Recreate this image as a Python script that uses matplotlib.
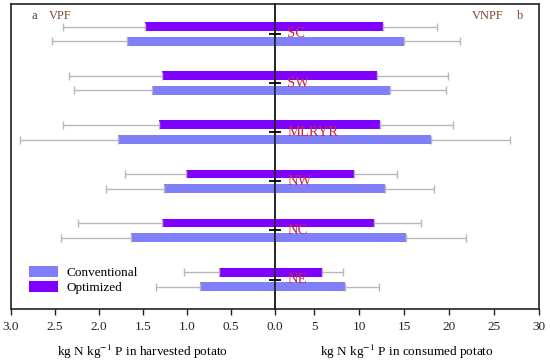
import matplotlib
matplotlib.use("Agg")
import matplotlib.pyplot as plt
import numpy as np

# -- Data ---------------------------------------------------------------------

regions = ["NE", "NC", "NW", "MLRYR", "SW", "SC"]

# VPF: kg N kg-1 P in harvested potato
vpf_conv = [0.85, 1.63, 1.26, 1.78, 1.40, 1.68]
vpf_conv_err = [0.50, 0.80, 0.66, 1.11, 0.88, 0.85]
vpf_opt = [0.63, 1.28, 1.01, 1.31, 1.28, 1.47]
vpf_opt_err = [0.40, 0.95, 0.69, 1.10, 1.06, 0.94]

# VNPF: kg N kg-1 P in consumed potato
vnpf_conv = [8.4, 15.2, 12.9, 18.0, 13.4, 15.0]
vnpf_conv_err = [3.8, 6.7, 5.4, 8.7, 6.2, 6.2]
vnpf_opt = [5.8, 11.6, 9.45, 12.3, 12.0, 12.67]
vnpf_opt_err = [2.4, 5.3, 4.75, 8.1, 7.9, 5.93]

left_ticks = [3.0, 2.5, 2.0, 1.5, 1.0, 0.5, 0.0]
right_ticks = [5, 10, 15, 20, 25, 30]

CONV_COLOR = "#7f7ffa"
OPT_COLOR = "#7f00ff"
ERR_COLOR = "#b8b8b8"
REGION_COLOR = "#cc2a3c"

plt.rcParams["font.family"] = ["Liberation Serif", "DejaVu Serif"]
plt.rcParams["mathtext.fontset"] = "stix"

W, H = 550, 360
fig = plt.figure(figsize=(5.5, 3.6), dpi=100)

x0, xm, x1 = 10.7, 274.7, 539.3
ytop, ybot = 4, 309
ax_l = fig.add_axes([x0 / W, (H - ybot) / H, (xm - x0) / W, (ybot - ytop) / H])
ax_r = fig.add_axes([xm / W, (H - ybot) / H, (x1 - xm) / W, (ybot - ytop) / H])
ax_r.patch.set_alpha(0)

y = np.arange(len(regions))
off = 0.15
h = 0.18
err_kw = {"ecolor": ERR_COLOR, "elinewidth": 1.0, "capsize": 3, "capthick": 1.0}

zeros = np.zeros(len(regions))
ax_l.barh(y - off, vpf_conv, h, color=CONV_COLOR,
          xerr=[zeros, vpf_conv_err], error_kw=err_kw, label="Conventional")
ax_l.barh(y + off, vpf_opt, h, color=OPT_COLOR,
          xerr=[zeros, vpf_opt_err], error_kw=err_kw, label="Optimized")
ax_r.barh(y - off, vnpf_conv, h, color=CONV_COLOR,
          xerr=[zeros, vnpf_conv_err], error_kw=err_kw)
ax_r.barh(y + off, vnpf_opt, h, color=OPT_COLOR,
          xerr=[zeros, vnpf_opt_err], error_kw=err_kw)

ylim = (-0.60, 5.61)
ax_l.set_xlim(3.0, 0.0)
ax_r.set_xlim(0.6, 30)
for ax in (ax_l, ax_r):
    ax.set_ylim(*ylim)
    ax.set_yticks([])
    for sp in ax.spines.values():
        sp.set_linewidth(1.2)
        sp.set_color("#222222")
    ax.tick_params(axis="x", direction="out", length=4, width=1.0,
                   labelsize=9.5, pad=5, colors="#222222")

ax_l.set_xticks(left_ticks)
ax_l.set_xticklabels([f"{t:.1f}" for t in left_ticks])
ax_r.set_xticks(right_ticks)
ax_r.set_xticklabels([str(t) for t in right_ticks])

ax_l.set_xlabel("kg N kg$^{-1}$ P in harvested potato", fontsize=9.5, labelpad=7)
ax_r.set_xlabel("kg N kg$^{-1}$ P in consumed potato", fontsize=9.5, labelpad=7)

# small markers on the centre line and region names
ax_r.plot(np.full(len(regions), 0.6), y, marker="_", markersize=9,
          markeredgewidth=1.3, color="black", linestyle="none",
          clip_on=False, zorder=5)
for yi, name in zip(y, regions):
    ax_r.text(2.0, yi, name, color=REGION_COLOR, fontsize=10.5,
              ha="left", va="center", zorder=6)

ax_l.text(0.08, 0.962, "a", transform=ax_l.transAxes, fontsize=9,
          color="#4a3a3a", ha="left", va="center")
ax_l.text(0.145, 0.962, "VPF", transform=ax_l.transAxes, fontsize=9,
          color="#7a4a30", ha="left", va="center")
ax_r.text(0.745, 0.962, "VNPF", transform=ax_r.transAxes, fontsize=9,
          color="#7a4a30", ha="left", va="center")
ax_r.text(0.915, 0.962, "b", transform=ax_r.transAxes, fontsize=9,
          color="#7a4a30", ha="left", va="center")

handles, labels = ax_l.get_legend_handles_labels()
ax_l.legend(handles, labels, loc="lower left", bbox_to_anchor=(0.035, 0.02),
            frameon=False, fontsize=9.5, handlelength=2.2, handleheight=0.9,
            handletextpad=0.6, labelspacing=0.15, borderpad=0.2)

fig.savefig("out.png", dpi=100)
